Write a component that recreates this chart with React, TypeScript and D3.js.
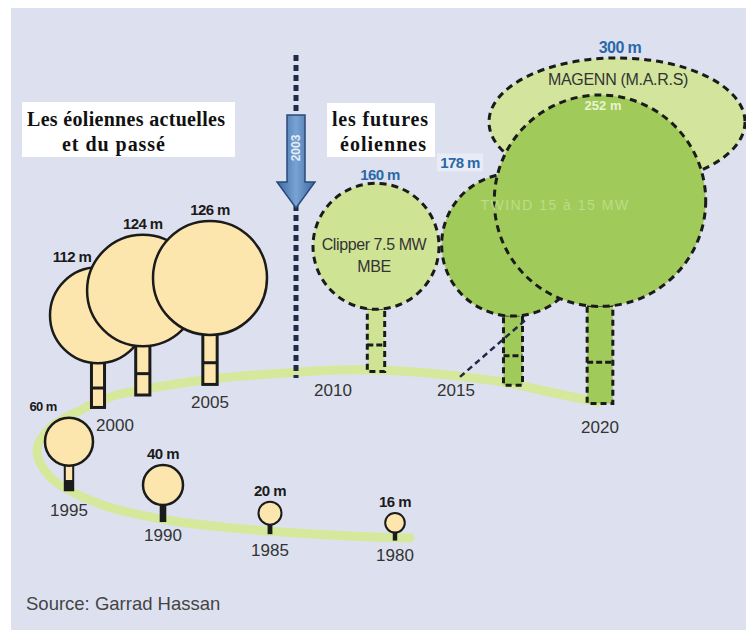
import React from "react";
import * as d3 from "d3";

// ---------------- data ----------------
const pastYears = [1980, 1985, 1990, 1995, 2000, 2002, 2005];
const pastDiameters = [16, 20, 40, 60, 112, 124, 126];
const futureYears = [2010, 2015, 2020];
const futureDiameters = [160, 178, 252];
const futureModels = [["Clipper 7.5 MW", "MBE"], ["TWIND 15 à 15 MW"], []];
const airborneModel = "MAGENN (M.A.R.S)";
const airborneDiameter = 300;
const yearLabels = [1980, 1985, 1990, 1995, 2000, 2005, 2010, 2015, 2020];
const markerYear = 2003;
const titlePast = ["Les éoliennes actuelles", "et du passé"];
const titleFuture = ["les futures", "éoliennes"];
const sourceText = "Source: Garrad Hassan";

// ---------------- layout (decorative) ----------------
const timelineUpper: [number, number][] = [
  [598, 402], [573, 397], [540, 390], [503, 382], [457, 376], [400, 371],
  [340, 370], [300, 372], [220, 378], [157, 387], [110, 397], [77, 412], [50, 428],
];
const timelineLower: [number, number][] = [
  [37, 450], [50, 477], [100, 504], [167, 520], [267, 531], [373, 537], [410, 538],
];
const yearLabelDx = [0, 0, 0, 0, 17, 0, -43, -57, 0];
const yearLabelDy = [17, 19, 16, 23, 29, 23, 20, 14, 25];
const pastLabelDx = [0, 0, 0, -26, -26, 0, 0];

const W = 746;
const H = 634;

const xUpper = d3.scaleLinear().domain([2000, 2005, 2010, 2015, 2020]).range([98, 210, 376, 513, 600]);
const xLower = d3.scaleLinear().domain([1980, 1985, 1990, 1995]).range([395, 270, 163, 69]);
const xYear = (y: number) => (y >= 2000 ? xUpper(y) : xLower(y));
const yUpper = d3.scaleLinear().domain(timelineUpper.map((p) => p[0]).reverse()).range(timelineUpper.map((p) => p[1]).reverse());
const yLower = d3.scaleLinear().domain(timelineLower.map((p) => p[0])).range(timelineLower.map((p) => p[1]));

const rScale = d3.scaleLinear().domain([0, 40, 60, 112, 126, 160, 300]).range([3, 20, 24, 48, 57, 63, 128]);
const stemH = d3.scaleLinear().domain([16, 252]).range([8, 97]);
const stemW = d3.scaleLinear().domain([0, 300]).range([3, 30]);

const C = {
  bg: "#dde1ef",
  past: "#fde6ae",
  ink: "#1b1b1b",
  light: "#cfe394",
  dark: "#a0cb5a",
  mag: "#d3e59d",
  blue: "#2a68a8",
  navy: "#1f2a48",
  path: "#d5e89b",
  text: "#333",
};
const SANS = "'Liberation Sans', Arial, sans-serif";
const SERIF = "'Liberation Serif', 'Times New Roman', serif";

export default function App() {
  const past = pastYears.map((year, i) => {
    const D = pastDiameters[i];
    const x = xYear(year);
    const upper = year >= 2000;
    const base = (upper ? yUpper(x) : yLower(x)) + (upper ? 5 : 3);
    const h = stemH(D);
    const r = rScale(D);
    const w = stemW(D);
    const cy = base - h - r;
    return { year, D, x, base, h, r, w, cy, i };
  });
  const future = futureYears.map((year, i) => {
    const D = futureDiameters[i];
    const x = xYear(year);
    const base = yUpper(x) + 1;
    const h = stemH(D);
    const r = rScale(D);
    const w = stemW(D);
    const cy = base - h - r;
    return { year, D, x, base, h, r, w, cy, i };
  });
  const last = future[2];
  const mag = {
    rx: rScale(airborneDiameter),
    ry: rScale(airborneDiameter) / 2,
    cx: last.x + 17,
    cy: last.cy - last.r + 27,
  };

  const timeline = d3.line().curve(d3.curveCatmullRom)([...timelineUpper, ...timelineLower]) || "";
  const markX = (xUpper(2005) + xUpper(2010)) / 2 + 3;

  const dash = "7 5";

  const pastStem = (t: any) => {
    const x0 = t.x - t.w / 2;
    const y0 = t.cy + t.r - 1;
    const hh = t.base - y0;
    if (t.D <= 40) {
      return <rect x={x0} y={y0} width={t.w} height={hh} fill={C.ink} />;
    }
    if (t.D < 100) {
      return (
        <g>
          <rect x={x0} y={y0} width={t.w} height={hh} fill={C.past} stroke={C.ink} strokeWidth={2} />
          <rect x={x0} y={y0 + hh * 0.6} width={t.w} height={hh * 0.4} fill={C.ink} />
        </g>
      );
    }
    return (
      <g>
        <rect x={x0} y={y0} width={t.w} height={hh} fill={C.past} stroke={C.ink} strokeWidth={3} />
        <line x1={x0} x2={x0 + t.w} y1={y0 + hh * 0.57} y2={y0 + hh * 0.57} stroke={C.ink} strokeWidth={3} />
      </g>
    );
  };

  const futureTree = (t: any) => {
    const fill = t.i === 0 ? C.light : C.dark;
    const x0 = t.x - t.w / 2;
    const y0 = t.cy + t.r - 1;
    const hh = t.base - y0;
    return (
      <g key={t.year}>
        <rect x={x0} y={y0} width={t.w} height={hh} fill={fill} stroke={C.ink} strokeWidth={3} strokeDasharray="6 4" />
        <line x1={x0} x2={x0 + t.w} y1={y0 + hh * 0.58} y2={y0 + hh * 0.58} stroke={C.ink} strokeWidth={3} strokeDasharray="6 3" />
        <circle cx={t.x} cy={t.cy} r={t.r} fill={fill} stroke={C.ink} strokeWidth={3} strokeDasharray={dash} />
      </g>
    );
  };

  return (
    <svg width={W} height={H} style={{ position: "absolute", left: 0, top: 0, display: "block" }}>
      <rect x={0} y={0} width={W} height={H} fill="#fff" />
      <rect x={11} y={8} width={W - 11} height={622} fill={C.bg} />

      {/* timeline */}
      <path d={timeline} fill="none" stroke={C.path} strokeWidth={9} strokeLinecap="round" />

      {/* marker line & arrow */}
      <line x1={markX} x2={markX} y1={55} y2={378} stroke={C.navy} strokeWidth={5} strokeDasharray="6 4" />
      <defs>
        <linearGradient id="arr" x1="0" x2="1" y1="0" y2="0">
          <stop offset="0" stopColor="#3e68a0" />
          <stop offset="0.5" stopColor="#78a3d4" />
          <stop offset="1" stopColor="#3e68a0" />
        </linearGradient>
      </defs>
      <path
        d={`M${markX - 9},115 L${markX + 9},115 L${markX + 9},182 L${markX + 19},182 L${markX},208 L${markX - 19},182 L${markX - 9},182 Z`}
        fill="url(#arr)"
        stroke="#284a7c"
        strokeWidth={1.5}
      />
      <text
        x={markX}
        y={148}
        transform={`rotate(-90 ${markX} 148)`}
        textAnchor="middle"
        dy="0.35em"
        fontFamily={SANS}
        fontWeight="bold"
        fontSize={12}
        fill="#e4ecf7"
      >
        {markerYear}
      </text>

      {/* past trees */}
      {past.map((t) => (
        <g key={t.year}>
          {pastStem(t)}
          <circle cx={t.x} cy={t.cy} r={t.r} fill={C.past} stroke={C.ink} strokeWidth={t.D > 30 ? 2.5 : 2} />
        </g>
      ))}

      {/* future */}
      <ellipse cx={mag.cx} cy={mag.cy} rx={mag.rx} ry={mag.ry} fill={C.mag} stroke={C.ink} strokeWidth={3} strokeDasharray={dash} />
      {future.map((t) => futureTree(t))}

      {/* leader line 2015 */}
      <line
        x1={xYear(2015) + yearLabelDx[7] + 4}
        y1={yUpper(xYear(2015) + yearLabelDx[7]) + yearLabelDy[7] - 13}
        x2={future[1].x + future[1].w / 2 + 4}
        y2={future[1].cy + future[1].r + 3}
        stroke={C.navy}
        strokeWidth={2.5}
        strokeDasharray="6 4"
      />

      {/* past diameter labels */}
      {past.map((t) => (
        <text
          key={"l" + t.year}
          x={t.x + pastLabelDx[t.i]}
          y={t.cy - t.r - 11}
          dy="0.35em"
          textAnchor="middle"
          fontFamily={SANS}
          fontWeight="bold"
          fontSize={t.D === 60 ? 13 : 15}
          letterSpacing={-0.6}
          fill={C.ink}
        >
          {t.D} m
        </text>
      ))}

      {/* future labels */}
      <text x={future[0].x + 4} y={future[0].cy - future[0].r - 9} dy="0.35em" textAnchor="middle" fontFamily={SANS} fontWeight="bold" fontSize={15} letterSpacing={-0.6} fill={C.blue}>
        {future[0].D} m
      </text>
      <rect x={future[1].x - 76} y={future[1].cy - future[1].r - 20} width={46} height={18} fill="#e9ecf6" />
      <text x={future[1].x - 53} y={future[1].cy - future[1].r - 11} dy="0.35em" textAnchor="middle" fontFamily={SANS} fontWeight="bold" fontSize={15} letterSpacing={-0.6} fill={C.blue}>
        {future[1].D} m
      </text>
      <text x={last.x + 3} y={last.cy - last.r + 10} dy="0.35em" textAnchor="middle" fontFamily={SANS} fontWeight="bold" fontSize={13} fill="#e9f3d2">
        {last.D} m
      </text>
      <text x={mag.cx + 3} y={mag.cy - mag.ry - 11} dy="0.35em" textAnchor="middle" fontFamily={SANS} fontWeight="bold" fontSize={16} letterSpacing={-0.6} fill={C.blue}>
        {airborneDiameter} m
      </text>
      <text x={mag.cx + 1} y={mag.cy - 43} dy="0.35em" textAnchor="middle" fontFamily={SANS} fontSize={16} letterSpacing={-0.3} fill={C.text}>
        {airborneModel}
      </text>
      {futureModels[0].map((s, k) => (
        <text key={s} x={future[0].x - 2} y={future[0].cy - 2 + k * 22} dy="0.35em" textAnchor="middle" fontFamily={SANS} fontSize={16} letterSpacing={-0.4} fill={C.text}>
          {s}
        </text>
      ))}
      {futureModels[1].map((s) => (
        <text key={s} x={future[1].x + 42} y={future[1].cy - 40} dy="0.35em" textAnchor="middle" fontFamily={SANS} fontSize={14} letterSpacing={1.5} fill="#bcdc88">
          {s}
        </text>
      ))}

      {/* year labels */}
      {yearLabels.map((y, k) => {
        const lx = xYear(y) + yearLabelDx[k];
        const ly = (y >= 2000 ? yUpper(lx) : yLower(lx)) + yearLabelDy[k];
        return (
          <text key={"y" + y} x={lx} y={ly} dy="0.35em" textAnchor="middle" fontFamily={SANS} fontSize={17} fill={C.text}>
            {y}
          </text>
        );
      })}

      {/* titles */}
      <rect x={22} y={102} width={213} height={55} fill="#fff" />
      <text x={27} y={126} fontFamily={SERIF} fontWeight="bold" fontSize={20} fill="#111" textLength={198} lengthAdjust="spacing">
        {titlePast[0]}
      </text>
      <text x={62} y={151} fontFamily={SERIF} fontWeight="bold" fontSize={20} fill="#111" textLength={103} lengthAdjust="spacing">
        {titlePast[1]}
      </text>
      <rect x={327} y={103} width={108} height={54} fill="#fff" />
      <text x={332} y={126} fontFamily={SERIF} fontWeight="bold" fontSize={20} fill="#111" textLength={96} lengthAdjust="spacing">
        {titleFuture[0]}
      </text>
      <text x={340} y={151} fontFamily={SERIF} fontWeight="bold" fontSize={20} fill="#111" textLength={86} lengthAdjust="spacing">
        {titleFuture[1]}
      </text>

      {/* source */}
      <text x={26} y={610} fontFamily={SANS} fontSize={18.5} fill="#444">
        {sourceText}
      </text>
    </svg>
  );
}
